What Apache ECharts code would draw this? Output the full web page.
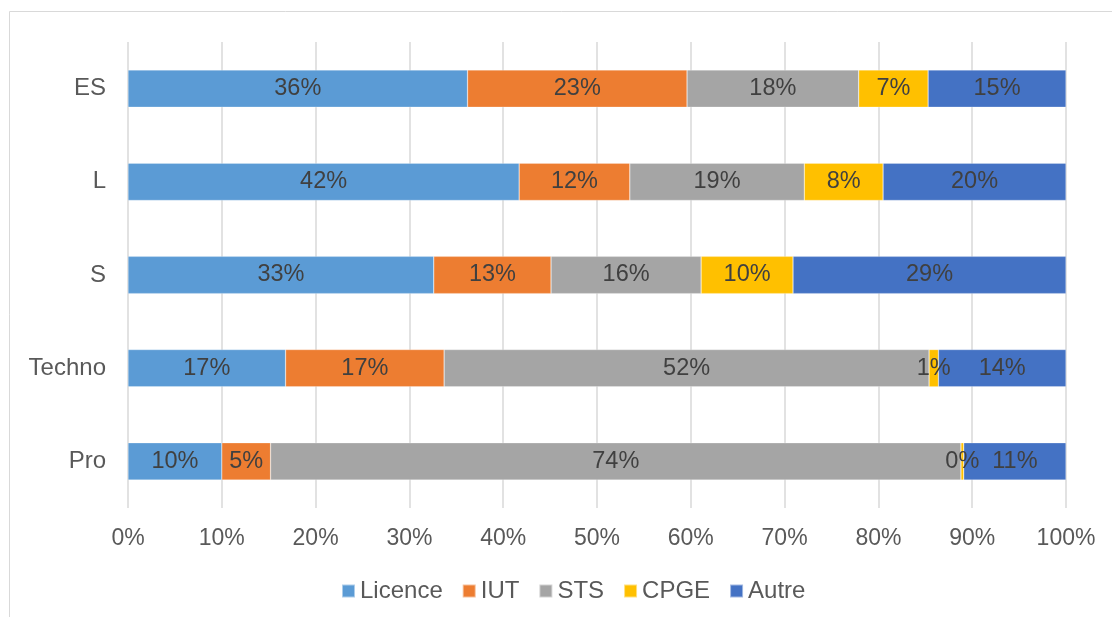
<!DOCTYPE html>
<html><head><meta charset="utf-8">
<script src="https://cdn.jsdelivr.net/npm/echarts@6/dist/echarts.min.js"></script>
<style>html,body{margin:0;padding:0;background:#fff}#c{width:1112px;height:617px}</style>
</head><body><div id="c"></div>
<script>
const categories = ['Pro', 'Techno', 'S', 'L', 'ES'];
const seriesNames = ['Licence', 'IUT', 'STS', 'CPGE', 'Autre'];
const licence = [10.0, 16.8, 32.6, 41.7, 36.2];
const iut     = [5.2, 16.9, 12.5, 11.8, 23.4];
const sts     = [73.6, 51.7, 16.0, 18.6, 18.3];
const cpge    = [0.3, 1.0, 9.8, 8.4, 7.4];
const autre   = [10.9, 13.6, 29.1, 19.5, 14.7];
const colors = ['#5B9BD5', '#ED7D31', '#A5A5A5', '#FFC000', '#4472C4'];
const allData = [licence, iut, sts, cpge, autre];

const chart = echarts.init(document.getElementById('c'));
const font = 'Liberation Sans, Arial, sans-serif';
chart.setOption({
  animation: false,
  graphic: [{type: 'rect', shape: {x: 9.5, y: 11.5, width: 1200, height: 700}, style: {fill: 'none', stroke: '#D9D9D9', lineWidth: 1}}],
  grid: {left: 128, right: 46, top: 42, bottom: 109, containLabel: false},
  legend: {
    bottom: 9, left: 336, itemWidth: 13, itemHeight: 13, itemGap: 19,
    icon: 'rect',
    textStyle: {fontFamily: font, fontSize: 24, color: '#595959'},
    data: seriesNames
  },
  xAxis: {
    type: 'value', min: 0, max: 100, interval: 10,
    axisLabel: {formatter: v => v + '%', fontFamily: font, fontSize: 23, color: '#595959', margin: 19},
    splitLine: {lineStyle: {color: '#D9D9D9', width: 1.5}},
    axisLine: {show: false}, axisTick: {show: false}
  },
  yAxis: {
    type: 'category', data: categories,
    axisLabel: {fontFamily: font, fontSize: 24, color: '#595959', margin: 22},
    axisLine: {show: false}, axisTick: {show: false}
  },
  series: seriesNames.map((n, i) => ({
    name: n, type: 'bar', stack: 'all', barWidth: '40%',
    data: allData[i],
    itemStyle: {color: colors[i], borderColor: 'rgba(255,255,255,0.5)', borderWidth: 0.5},
    label: {show: true, position: 'inside', formatter: p => Math.round(p.value) + '%',
      fontFamily: font, fontSize: 23.5, color: '#404040'},
    labelLayout: {hideOverlap: false}
  }))
});
</script></body></html>
